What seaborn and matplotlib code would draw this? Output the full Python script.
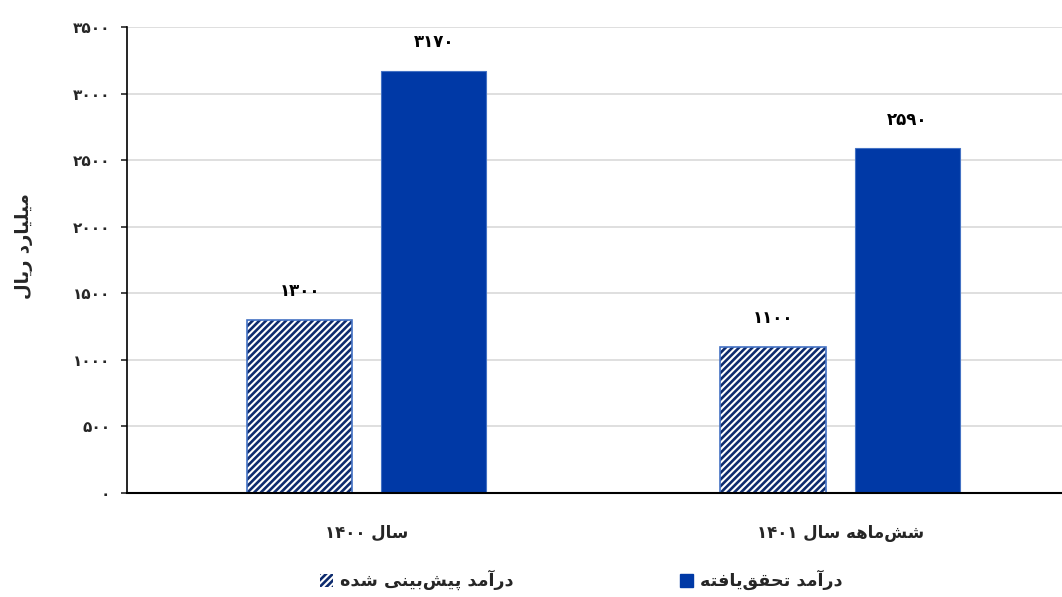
import pandas as pd
import matplotlib
matplotlib.use("Agg")
import matplotlib.pyplot as plt
from matplotlib.patches import Rectangle
import seaborn as sns

# داده‌ها
categories = ["سال ۱۴۰۰", "شش‌ماهه سال ۱۴۰۱"]
series_names = ["درآمد پیش‌بینی شده", "درآمد تحقق‌یافته"]
forecast = [1300, 1100]
realized = [3170, 2590]
y_ticks = [0, 500, 1000, 1500, 2000, 2500, 3000, 3500]
y_title = "میلیارد ریال"

# --- mini reshaper for Persian text (matplotlib has no bidi / shaping) ---
# char: (isolated, final, initial, medial) ; right-joining letters have only 2 forms
FORMS = {
    "ا": ("\uFE8D", "\uFE8E"), "آ": ("\uFE81", "\uFE82"),
    "د": ("\uFEA9", "\uFEAA"), "ر": ("\uFEAD", "\uFEAE"),
    "ب": ("\uFE8F", "\uFE90", "\uFE91", "\uFE92"),
    "پ": ("\uFB56", "\uFB57", "\uFB58", "\uFB59"),
    "ت": ("\uFE95", "\uFE96", "\uFE97", "\uFE98"),
    "ح": ("\uFEA1", "\uFEA2", "\uFEA3", "\uFEA4"),
    "س": ("\uFEB1", "\uFEB2", "\uFEB3", "\uFEB4"),
    "ش": ("\uFEB5", "\uFEB6", "\uFEB7", "\uFEB8"),
    "ف": ("\uFED1", "\uFED2", "\uFED3", "\uFED4"),
    "ق": ("\uFED5", "\uFED6", "\uFED7", "\uFED8"),
    "ل": ("\uFEDD", "\uFEDE", "\uFEDF", "\uFEE0"),
    "م": ("\uFEE1", "\uFEE2", "\uFEE3", "\uFEE4"),
    "ن": ("\uFEE5", "\uFEE6", "\uFEE7", "\uFEE8"),
    "ه": ("\uFEE9", "\uFEEA", "\uFEEB", "\uFEEC"),
    "ی": ("\uFBFC", "\uFBFD", "\uFBFE", "\uFBFF"),
}
FA_DIGITS = "۰۱۲۳۴۵۶۷۸۹"


def fa_num(v):
    return "".join(FA_DIGITS[int(c)] for c in str(int(v)))


def fa(text):
    out = []
    for i, ch in enumerate(text):
        if ch not in FORMS:
            if ch != "\u200c":
                out.append(ch)
            continue
        prev = text[i - 1] if i > 0 else ""
        nxt = text[i + 1] if i + 1 < len(text) else ""
        join_prev = prev in FORMS and len(FORMS[prev]) == 4
        join_next = len(FORMS[ch]) == 4 and nxt in FORMS
        f = FORMS[ch]
        if join_prev and join_next:
            out.append(f[3])
        elif join_prev:
            out.append(f[1])
        elif join_next:
            out.append(f[2])
        else:
            out.append(f[0])
    # visual order: reverse, but keep digit runs left-to-right
    rev = out[::-1]
    res, run = [], []
    for ch in rev:
        if ch in FA_DIGITS:
            run.append(ch)
        else:
            res.extend(run[::-1])
            run = []
            res.append(ch)
    res.extend(run[::-1])
    return "".join(res)


df = pd.DataFrame({
    "cat": [fa(c) for c in categories] * 2,
    "series": [fa(series_names[0])] * 2 + [fa(series_names[1])] * 2,
    "value": forecast + realized,
})

sns.set_theme(style="white")
plt.rcParams["font.family"] = ["DejaVu Sans"]
plt.rcParams["font.weight"] = "bold"
plt.rcParams["hatch.linewidth"] = 1.9

fig = plt.figure(figsize=(10.62, 5.97), dpi=100)
ax = fig.add_axes([127 / 1062, 1 - 493 / 597, 1 - 127 / 1062, (493 - 27) / 597])

navy = "#0d2b6e"
blue = "#0039A6"
sns.barplot(data=df, x="cat", y="value", hue="series", ax=ax,
            palette=["white", blue], width=0.567, gap=0.217,
            edgecolor="#4472C4", linewidth=0.8, saturation=1, legend=False)

# hatched forecast bars
fc_bars = ax.containers[0]
for p in fc_bars:
    p.set_hatch("/////")
    p.set_edgecolor(navy)
    p.set_linewidth(0)
    ax.add_patch(Rectangle(p.get_xy(), p.get_width(), p.get_height(),
                           fill=False, edgecolor="#4472C4", linewidth=1.2, zorder=p.get_zorder() + 0.1))

for cont in ax.containers:
    ax.bar_label(cont, labels=[fa_num(v) for v in cont.datavalues],
                 padding=14, fontsize=12, fontweight="bold", color="black")

ax.set_ylim(0, 3500)
ax.set_xlim(-0.507, 1.469)
ax.set_yticks(y_ticks)
ax.set_yticklabels([fa_num(v) for v in y_ticks], fontsize=11, fontweight="bold")
ax.tick_params(axis="y", which="both", left=True, length=4, width=1.2, pad=8, direction="out")
ax.tick_params(axis="x", length=0, pad=22, labelsize=12)
for t in ax.get_xticklabels():
    t.set_fontweight("bold")
ax.set_xlabel("")
ax.set_ylabel(fa(y_title), fontsize=13, fontweight="bold")
ax.yaxis.set_label_coords(-0.101, 0.53)

ax.yaxis.grid(True, color="#d9d9d9", linewidth=1.2)
ax.set_axisbelow(True)
for s in ["top", "right"]:
    ax.spines[s].set_visible(False)
ax.spines["left"].set_color("black")
ax.spines["left"].set_linewidth(1.2)
ax.spines["bottom"].set_color("black")
ax.spines["bottom"].set_linewidth(1.5)

# legend
h_fc = Rectangle((0, 0), 1, 1, facecolor="white", edgecolor=navy, hatch="/////", linewidth=0)
h_re = Rectangle((0, 0), 1, 1, facecolor=blue, edgecolor=blue)
fig.legend([h_fc, h_re], [fa(series_names[0]), fa(series_names[1])],
           loc="center", bbox_to_anchor=(0.5476, 0.028), ncol=2, frameon=False,
           handlelength=0.75, handleheight=0.75, handletextpad=0.4,
           columnspacing=9.5, prop={"weight": "bold", "size": 12.6})

fig.savefig("out.png", dpi=100)
